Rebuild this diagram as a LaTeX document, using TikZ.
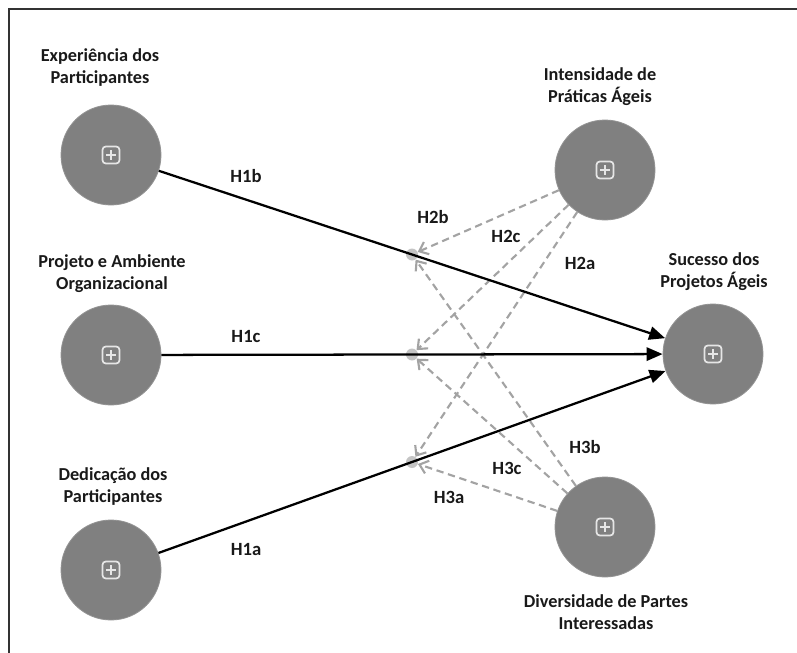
\documentclass[tikz,border=0pt]{standalone}
\usepackage{fontspec}
\setmainfont{Carlito}
\usepackage{tikz}
\usetikzlibrary{arrows.meta}
\definecolor{ConstructGray}{HTML}{808080}
\definecolor{DashGray}{HTML}{A3A3A3}
\definecolor{DotGray}{HTML}{C4C4C4}
\definecolor{IconGray}{HTML}{E6E6E6}
\tikzset{
  % Node styles
  construct/.style={circle, fill=ConstructGray, draw=ConstructGray!85!white, line width=0.6pt, minimum size=75pt, inner sep=0pt},
  moddot/.style={circle, fill=DotGray, minimum size=9pt, inner sep=0pt},
  namelabel/.style={font=\fontsize{13.7}{16.5}\selectfont\bfseries, align=center, text=black!90},
  hyplabel/.style={font=\fontsize{14}{16}\selectfont\bfseries, text=black!90},
  % Arrow styles
  patharrow/.style={-{Triangle[length=12pt,width=10pt]}, line width=1.7pt, black},
  modarrow/.style={-{Straight Barb[length=6pt,width=10pt]}, line width=1.6pt, DashGray, dash pattern=on 5.5pt off 3.5pt},
  iconline/.style={IconGray, line width=1.3pt},
  framebar/.style={line width=1.5pt, black!80}
}

\begin{document}
\begin{tikzpicture}[x=0.75pt, y=-0.75pt]
  \useasboundingbox (0,0) rectangle (797,653);
  \draw[framebar] (9,653) -- (9,9) -- (797,9);

  % Constructs
  \node[construct] (exp) at (111,155) {};
  \node[construct] (proj) at (111,355) {};
  \node[construct] (ded) at (111,570) {};
  \node[construct] (prat) at (605,170) {};
  \node[construct] (suc) at (713,354) {};
  \node[construct] (div) at (605,527) {};

  % Construct names
  \node[namelabel] (expname) at (100,68) {Experiência dos\\Participantes};
  \node[namelabel] (projname) at (112,274) {Projeto e Ambiente\\Organizacional};
  \node[namelabel] (dedname) at (113,487) {Dedicação dos\\Participantes};
  \node[namelabel] (pratname) at (600,87) {Intensidade de\\Práticas Ágeis};
  \node[namelabel] (sucname) at (714,272) {Sucesso dos\\Projetos Ágeis};
  \node[namelabel] (divname) at (606,612) {Diversidade de Partes\\Interessadas};

  % Expand icons
  \foreach \n in {exp,proj,ded,prat,suc,div} {
    \draw[iconline, rounded corners=2.5pt] ([shift={(-8.5,-8.5)}]\n.center) rectangle ([shift={(8.5,8.5)}]\n.center);
    \draw[iconline] ([shift={(-5,0)}]\n.center) -- ([shift={(5,0)}]\n.center);
    \draw[iconline] ([shift={(0,-5)}]\n.center) -- ([shift={(0,5)}]\n.center);
  }

  % Moderation points
  \node[moddot] (m1b) at (412,254.5) {};
  \node[moddot] (m1c) at (412,354.5) {};
  \node[moddot] (m1a) at (412,462) {};

  % Moderating effects
  \foreach \m in {m1b,m1c,m1a} {
    \draw[modarrow] (prat) -- (\m);
    \draw[modarrow] (div) -- (\m);
  }

  % Direct effects
  \draw[patharrow] (exp) -- (suc);
  \draw[patharrow] (proj) -- (suc);
  \draw[patharrow] (ded) -- (suc);

  % Hypotheses
  \node[hyplabel] (h1b) at (246,176) {H1b};
  \node[hyplabel] (h1c) at (246,337) {H1c};
  \node[hyplabel] (h1a) at (246,550) {H1a};
  \node[hyplabel] (h2b) at (433,217) {H2b};
  \node[hyplabel] (h2c) at (506,236) {H2c};
  \node[hyplabel] (h2a) at (580,263) {H2a};
  \node[hyplabel] (h3b) at (585,447) {H3b};
  \node[hyplabel] (h3c) at (507,468) {H3c};
  \node[hyplabel] (h3a) at (449,497) {H3a};
\end{tikzpicture}
\end{document}
